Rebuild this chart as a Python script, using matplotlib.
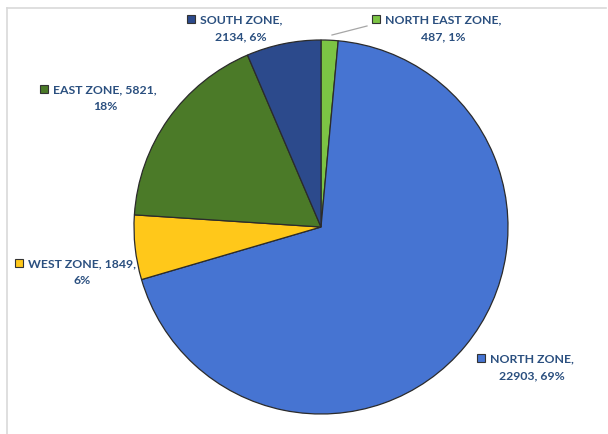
import matplotlib
matplotlib.use("Agg")
import matplotlib.pyplot as plt
from matplotlib.lines import Line2D

zones = ["NORTH EAST ZONE", "NORTH ZONE", "WEST ZONE", "EAST ZONE", "SOUTH ZONE"]
counts = [487, 22903, 1849, 5821, 2134]
colours = ["#7cc444", "#4674d2", "#ffc81a", "#4b7a28", "#2c4a8c"]

W, H = 608, 435
fig = plt.figure(figsize=(W / 100, H / 100), dpi=100)

def fx(px):
    return px / W

def fy(py):
    return 1 - py / H

# pie axes, centre (321, 228) px, radius 187 px
cx, cy, r = 321, 228, 187
ax = fig.add_axes([fx(cx - r), fy(cy + r), 2 * r / W, 2 * r / H])
ax.pie(counts, colors=colours, startangle=90, counterclock=False, radius=1,
       wedgeprops=dict(edgecolor="#2b2b2b", linewidth=0.9))
ax.set_xlim(-1, 1)
ax.set_ylim(-1, 1)
ax.axis("off")

# frame lines (top and left)
fig.add_artist(Line2D([fx(7), fx(606)], [fy(9), fy(9)], color="#d9d9d9", lw=1.2))
fig.add_artist(Line2D([fx(7), fx(7)], [fy(9), fy(435)], color="#d9d9d9", lw=1.2))

# leader line for the small slice
fig.add_artist(Line2D([fx(332), fx(367)], [fy(36), fy(27)], color="#a6a6a6", lw=0.9))

total = sum(counts)
# (text centre x, line1 y) in pixels
label_pos = {
    "NORTH EAST ZONE": (443, 20),
    "NORTH ZONE": (532, 359),
    "WEST ZONE": (82, 264),
    "EAST ZONE": (105, 90),
    "SOUTH ZONE": (241, 20),
}
wrap_after_name = {"NORTH EAST ZONE", "NORTH ZONE", "SOUTH ZONE"}
txt_col = "#2a4f7f"
fs = 8.8

renderer = fig.canvas.get_renderer()
for name, n, c in zip(zones, counts, colours):
    pct = round(100 * n / total)
    if name in wrap_after_name:
        l1, l2 = f"{name},", f"{n}, {pct}%"
    else:
        l1, l2 = f"{name}, {n},", f"{pct}%"
    x, y = label_pos[name]
    t1 = fig.text(fx(x), fy(y), l1, ha="center", va="center", fontsize=fs,
                  fontweight="bold", color=txt_col, family="Lato")
    fig.text(fx(x), fy(y + 17), l2, ha="center", va="center", fontsize=fs,
             fontweight="bold", color=txt_col, family="Lato")
    left = t1.get_window_extent(renderer).x0
    fig.add_artist(Line2D([(left - 9) / W], [fy(y)], marker="s", markersize=6,
                          markerfacecolor=c, markeredgecolor="#333333",
                          markeredgewidth=0.8, linestyle="none"))

fig.savefig("out.png", dpi=100)
